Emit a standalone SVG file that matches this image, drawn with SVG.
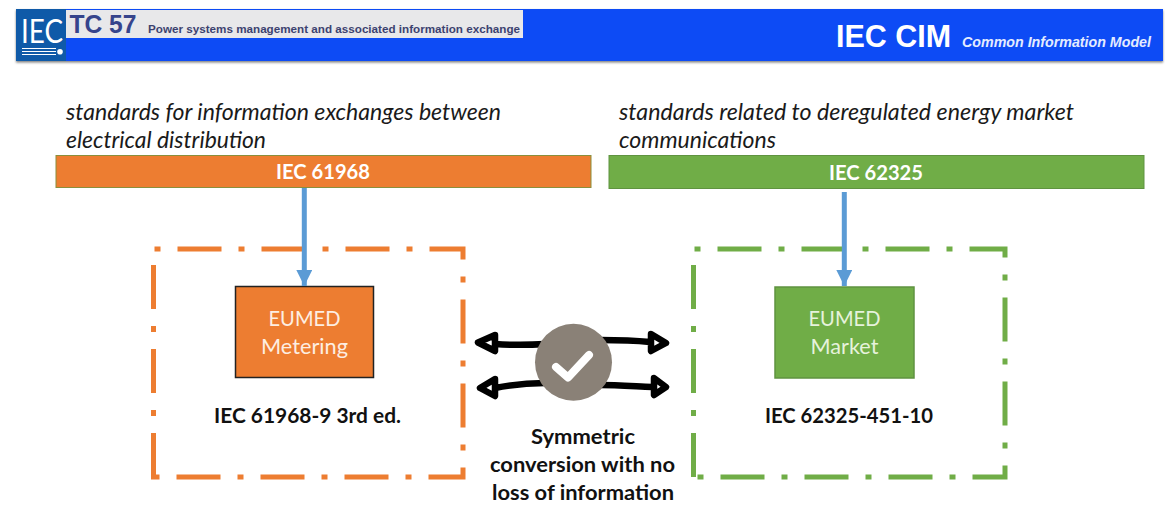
<svg xmlns="http://www.w3.org/2000/svg" width="1172" height="505" viewBox="0 0 1172 505">
<defs>
<filter id="hs" x="-2%" y="-20%" width="104%" height="150%"><feDropShadow dx="0" dy="1.5" stdDeviation="1.2" flood-color="#000" flood-opacity="0.5"/></filter>
<marker id="blue" markerUnits="userSpaceOnUse" markerWidth="18" markerHeight="16" refX="16" refY="8" orient="auto"><path d="M0 0L16 8L0 16Z" fill="#5b9bd5"/></marker>
</defs>
<style>
text{font-family:Lato,"Open Sans","Liberation Sans",sans-serif}
.a{font-family:"Liberation Sans",Arial,sans-serif;font-weight:700}
.i{font-size:22.5px;font-style:italic;fill:#1a1a1a}
.bar{font-size:21px;font-weight:700;fill:#fff;text-anchor:middle}
.nd{font-size:22px;fill:#fdeee2;text-anchor:middle}
.lb{font-size:21.5px;font-weight:700;fill:#111;text-anchor:middle}
.frame{fill:none;stroke-width:5;stroke-dasharray:44 17 6 17}
.hand{fill:none;stroke:#000;stroke-width:6.5;stroke-linecap:round;stroke-linejoin:round}
.conn{stroke:#5b9bd5;stroke-width:5;fill:none;marker-end:url(#blue)}
</style>
<g id="header">
<rect x="16" y="9" width="1147" height="52" fill="#0a4bf5" filter="url(#hs)"/>
<rect x="16" y="9" width="50" height="52" fill="#0f5aa8"/>
<rect x="66" y="10" width="457" height="28" fill="#e8e8ea"/>
<text x="21" y="43" font-family="Liberation Sans" font-size="32" fill="#fff" textLength="42" lengthAdjust="spacingAndGlyphs">IEC</text>
<path d="M22 48.500H56M22 51.500H56M22 54.500H56" stroke="#fff" stroke-width="1"/><circle cx="60" cy="51.700" r="2.800" fill="#fff"/>
<text class="a" x="69.500" y="33" font-size="25" fill="#36448c" textLength="67" lengthAdjust="spacingAndGlyphs">TC 57</text>
<text class="a" x="148" y="33" font-size="11.600" fill="#3c4270" textLength="372" lengthAdjust="spacingAndGlyphs">Power systems management and associated information exchange</text>
<text class="a" x="836" y="47" font-size="30.500" fill="#fff" textLength="115" lengthAdjust="spacingAndGlyphs">IEC CIM</text>
<text class="a" x="962" y="46.500" font-size="14.300" font-style="italic" fill="#e4ecff" textLength="189" lengthAdjust="spacingAndGlyphs">Common Information Model</text>
</g>
<g id="left-caption"><text class="i" x="66" y="120" textLength="435" lengthAdjust="spacingAndGlyphs">standards for information exchanges between</text><text class="i" x="66" y="148" textLength="200" lengthAdjust="spacingAndGlyphs">electrical distribution</text></g>
<g id="right-caption"><text class="i" x="619" y="120" textLength="455" lengthAdjust="spacingAndGlyphs">standards related to deregulated energy market</text><text class="i" x="619" y="148" textLength="157" lengthAdjust="spacingAndGlyphs">communications</text></g>
<g id="iec61968"><rect x="56" y="155.500" width="535" height="32" fill="#ed7d31" stroke="#8a8f3c" stroke-width="1"/><text class="bar" x="323" y="179" textLength="94" lengthAdjust="spacingAndGlyphs">IEC 61968</text></g>
<g id="iec62325"><rect x="609" y="155.500" width="535" height="33" fill="#70ad47" stroke="#5f9340" stroke-width="1"/><text class="bar" x="876" y="180" textLength="94" lengthAdjust="spacingAndGlyphs">IEC 62325</text></g>
<g id="metering-frame"><path class="frame" stroke="#ed7d31" d="M153.500 477V249H463V477Z"/></g>
<g id="market-frame"><path class="frame" stroke="#70ad47" d="M693.500 477V249H1005V477Z"/></g>
<g id="eumed-metering"><rect x="235.500" y="286.500" width="138" height="91" fill="#ed7d31" stroke="#222" stroke-width="1.500"/><text class="nd" x="304.500" y="326" textLength="72" lengthAdjust="spacingAndGlyphs">EUMED</text><text class="nd" x="304.500" y="354" textLength="87" lengthAdjust="spacingAndGlyphs">Metering</text></g>
<g id="eumed-market"><rect x="775" y="287" width="139" height="91" fill="#70ad47" stroke="#5f9340" stroke-width="1.500"/><text class="nd" x="844.500" y="326" style="fill:#e6f2dc" textLength="72" lengthAdjust="spacingAndGlyphs">EUMED</text><text class="nd" x="844.500" y="354" style="fill:#e6f2dc" textLength="68" lengthAdjust="spacingAndGlyphs">Market</text></g>
<g id="label-left"><text class="lb" x="307.500" y="423" textLength="187" lengthAdjust="spacingAndGlyphs">IEC 61968-9 3rd ed.</text></g>
<g id="label-right"><text class="lb" x="849" y="423" textLength="168" lengthAdjust="spacingAndGlyphs">IEC 62325-451-10</text></g>
<g id="connectors">
<path class="hand" d="M495 344C510 345 530 345 545 344M495 335L478 342.500L495 351ZM650 342C630 340 615 340 600 340M651 334L666 343L651 351Z"/>
<path class="hand" d="M495 388C510 385 530 383 545 383M495 379L480 388L495 396ZM652 387C630 386 615 385 600 385M654 378L666 387L654 395Z"/>
<path class="conn" d="M304.300 188V286"/>
<path class="conn" d="M844.300 192V286"/>
</g>
<g id="check"><circle cx="573.500" cy="362.300" r="38.500" fill="#8a8177"/><path d="M556 367L568 377.500L589 355" fill="none" stroke="#fff" stroke-width="8" stroke-linecap="round" stroke-linejoin="round"/></g>
<g id="symmetric"><text class="lb" x="583" y="444" textLength="104" lengthAdjust="spacingAndGlyphs">Symmetric</text><text class="lb" x="582.500" y="472" textLength="185" lengthAdjust="spacingAndGlyphs">conversion with no</text><text class="lb" x="583" y="500" textLength="182" lengthAdjust="spacingAndGlyphs">loss of information</text></g>
</svg>
